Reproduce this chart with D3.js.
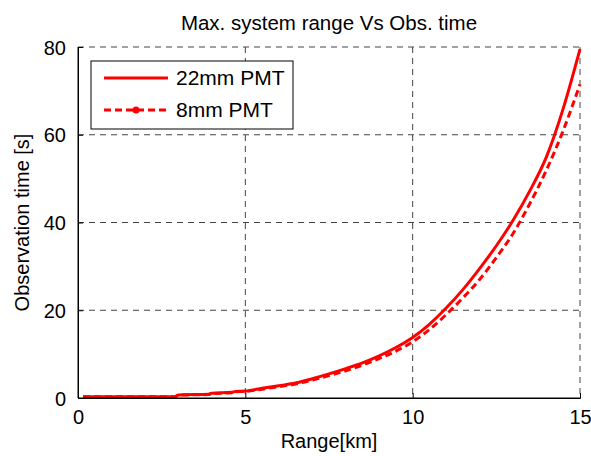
<!DOCTYPE html>
<html><head><meta charset="utf-8">
<script src="https://cdn.jsdelivr.net/npm/d3@7"></script>
<style>body{margin:0;background:#fff}svg{display:block}text{font-family:"Liberation Sans",Arial,sans-serif;fill:#000}</style>
</head><body><svg id="c" width="591" height="456"></svg>
<script>
const titleText = "Max. system range Vs Obs. time";
const xLabel = "Range[km]";
const yLabel = "Observation time [s]";
const xTicks = [0, 5, 10, 15];
const yTicks = [0, 20, 40, 60, 80];
const seriesNames = ["22mm PMT", "8mm PMT"];
const range22 = [0.15, 2.9, 3.0, 3.9, 4.0, 4.6, 4.7, 5, 5.5, 6, 6.5, 7, 7.5, 8, 8.5, 9, 9.5, 10, 10.5, 11, 11.5, 12, 12.5, 13, 13.5, 14, 14.5, 15];
const time22  = [0.3, 0.3, 0.7, 0.85, 1.1, 1.3, 1.5, 1.6, 2.2, 2.8, 3.4, 4.4, 5.5, 6.7, 8.0, 9.6, 11.5, 13.8, 16.8, 20.5, 24.7, 29.5, 34.7, 40.5, 47.2, 55, 66, 79.5];
const range8  = [0.15, 2.9, 3.0, 3.9, 4.0, 4.6, 4.7, 5, 5.5, 6, 6.5, 7, 7.5, 8, 8.5, 9, 9.5, 10, 10.5, 11, 11.5, 12, 12.5, 13, 13.5, 14, 14.5, 15];
const time8   = [0.3, 0.3, 0.65, 0.8, 1.0, 1.2, 1.4, 1.5, 2.0, 2.6, 3.2, 4.1, 5.1, 6.2, 7.5, 9.0, 10.7, 12.8, 15.6, 19.0, 22.8, 27.0, 32.0, 37.5, 44.3, 52, 61, 71.5];

const svg = d3.select("#c");
const L = 78, R = 580, T = 47, B = 398;
const x = d3.scaleLinear().domain([0, 15]).range([L, R]);
const y = d3.scaleLinear().domain([0, 80]).range([B, T]);
const red = "#ff0000";

// grid
const g = svg.append("g");
g.selectAll(".vg").data(xTicks.slice(1, -1)).join("line")
  .attr("x1", d => x(d)).attr("x2", d => x(d)).attr("y1", T).attr("y2", B)
  .attr("stroke", "#444").attr("stroke-dasharray", "6,5").attr("stroke-width", 1);
g.selectAll(".hg").data(yTicks.slice(1, -1)).join("line")
  .attr("x1", L).attr("x2", R).attr("y1", d => y(d)).attr("y2", d => y(d))
  .attr("stroke", "#444").attr("stroke-dasharray", "6,5").attr("stroke-width", 1);
g.append("line").attr("x1", L).attr("x2", R).attr("y1", T).attr("y2", T)
  .attr("stroke", "#444").attr("stroke-dasharray", "6,5");
g.append("line").attr("x1", R).attr("x2", R).attr("y1", T).attr("y2", B)
  .attr("stroke", "#444").attr("stroke-dasharray", "6,5");

// curves
const line = d3.line().x(d => x(d[0])).y(d => y(d[1])).curve(d3.curveMonotoneX);
const d22 = range22.map((r, i) => [r, time22[i]]);
const d8 = range8.map((r, i) => [r, time8[i]]);
svg.append("path").attr("d", line(d8)).attr("fill", "none").attr("stroke", red)
  .attr("stroke-width", 3).attr("stroke-dasharray", "7,4");
svg.append("path").attr("d", line(d22)).attr("fill", "none").attr("stroke", red)
  .attr("stroke-width", 3);

// axes
const xa = svg.append("g").attr("transform", `translate(0,${B})`)
  .call(d3.axisBottom(x).tickValues(xTicks).tickSize(-5).tickPadding(12).tickFormat(d3.format("d")));
const ya = svg.append("g").attr("transform", `translate(${L},0)`)
  .call(d3.axisLeft(y).tickValues(yTicks).tickSize(-5).tickPadding(12).tickFormat(d3.format("d")));
[xa, ya].forEach(a => {
  a.select(".domain").attr("stroke", "#000");
  a.selectAll("line").attr("stroke", "#000");
  a.selectAll("text").attr("font-size", 20).attr("font-family", "Liberation Sans, Arial, sans-serif").attr("fill", "#000");
});
ya.selectAll("text").attr("dy", "0.35em");
svg.append("line").attr("x1", L).attr("x2", L).attr("y1", T).attr("y2", B).attr("stroke", "#000");
svg.append("line").attr("x1", L).attr("x2", R).attr("y1", B).attr("y2", B).attr("stroke", "#000");

// labels
svg.append("text").attr("x", (L + R) / 2).attr("y", 30).attr("text-anchor", "middle")
  .attr("font-size", 20.5).text(titleText);
svg.append("text").attr("x", (L + R) / 2).attr("y", 448).attr("text-anchor", "middle")
  .attr("font-size", 20).text(xLabel);
svg.append("text").attr("transform", `translate(29,${(T + B) / 2}) rotate(-90)`)
  .attr("text-anchor", "middle").attr("font-size", 20).text(yLabel);

// legend
const lg = svg.append("g");
lg.append("rect").attr("x", 91).attr("y", 61).attr("width", 202).attr("height", 68)
  .attr("fill", "#fff").attr("stroke", "#000").attr("stroke-width", 1);
const rows = [78, 110];
seriesNames.forEach((name, i) => {
  lg.append("line").attr("x1", 104).attr("x2", 168).attr("y1", rows[i]).attr("y2", rows[i])
    .attr("stroke", red).attr("stroke-width", 3)
    .attr("stroke-dasharray", i === 1 ? "7,4" : null);
  if (i === 1) lg.append("circle").attr("cx", 136).attr("cy", rows[i]).attr("r", 3.5).attr("fill", red);
  lg.append("text").attr("x", 176).attr("y", rows[i]).attr("dy", "0.35em")
    .attr("font-size", 21).text(name);
});
</script></body></html>
